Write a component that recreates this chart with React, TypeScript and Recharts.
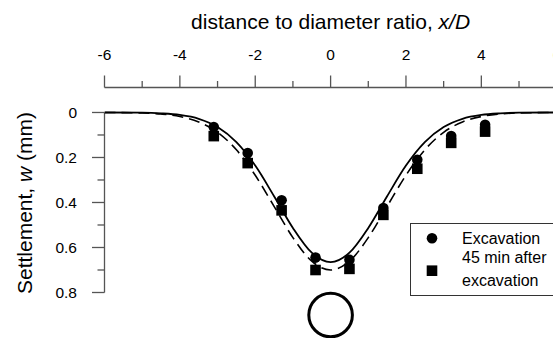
import {
  ComposedChart,
  Line,
  Scatter,
  XAxis,
  YAxis,
  Legend,
  ReferenceLine,
  ReferenceDot,
} from "recharts"

// measured points (x/D, settlement mm)
const pointX = [-3.1, -2.2, -1.3, -0.4, 0.5, 1.4, 2.3, 3.2, 4.1]
const excavation = [0.065, 0.18, 0.39, 0.645, 0.655, 0.425, 0.21, 0.105, 0.055]
const after45 = [0.105, 0.225, 0.435, 0.7, 0.695, 0.455, 0.25, 0.135, 0.085]

// fitted troughs
const curveX = [-6, -5, -4.5, -4, -3.5, -3, -2.5, -2, -1.5, -1, -0.5, 0, 0.5, 1, 1.5, 2, 2.5, 3, 3.5, 4, 4.5, 5, 6]
const fitExcavation = [0, 0.001, 0.004, 0.011, 0.028, 0.065, 0.132, 0.236, 0.372, 0.513, 0.623, 0.665, 0.623, 0.513, 0.372, 0.236, 0.132, 0.065, 0.028, 0.011, 0.004, 0.001, 0]
const fitAfter = [0, 0.002, 0.007, 0.018, 0.042, 0.088, 0.166, 0.279, 0.417, 0.556, 0.661, 0.7, 0.661, 0.556, 0.417, 0.279, 0.166, 0.088, 0.042, 0.018, 0.007, 0.002, 0]

const xTicks = [-6, -5, -4, -3, -2, -1, 0, 1, 2, 3, 4, 5, 6]
const yTicks = [0, 0.1, 0.2, 0.3, 0.4, 0.5, 0.6, 0.7, 0.8]

// tunnel position (centre, in x/D and mm)
const tunnel = { x: 0, y: 0.9 }

const excData = pointX.map((x, i) => ({ x, y: excavation[i] }))
const aftData = pointX.map((x, i) => ({ x, y: after45[i] }))
const fitExcData = curveX.map((x, i) => ({ x, y: fitExcavation[i] }))
const fitAftData = curveX.map((x, i) => ({ x, y: fitAfter[i] }))

const FONT = "'Liberation Sans', Arial, sans-serif"
const AXIS = "#555"

function XTick(props: any) {
  const { x, y, payload } = props
  const major = payload.value % 2 === 0
  return (
    <g>
      <line x1={x} x2={x} y1={y} y2={y - (major ? 12 : 6.5)} stroke={AXIS} strokeWidth={1.3} />
      {major && (
        <text x={x} y={y - 27.5} textAnchor="middle" fontSize={15.5} fill="#000">
          {payload.value}
        </text>
      )}
    </g>
  )
}

function YTick(props: any) {
  const { x, y, payload } = props
  const major = Math.round(payload.value * 10) % 2 === 0
  return (
    <g>
      <line x1={x - (major ? 12.5 : 7)} x2={x} y1={y} y2={y} stroke={AXIS} strokeWidth={1.3} />
      {major && (
        <text x={x - 27.5} y={y} dy="0.36em" textAnchor="end" fontSize={15.5} fill="#000">
          {Number(payload.value.toFixed(1))}
        </text>
      )}
    </g>
  )
}

function LegendBox() {
  return (
    <svg width={160} height={74} style={{ display: "block", fontFamily: FONT }}>
      <rect x={0.5} y={0.5} width={170} height={72} fill="#fff" stroke="#333" strokeWidth={1} />
      <circle cx={22} cy={15.3} r={5.3} fill="#000" />
      <text x={52} y={21} fontSize={16}>Excavation</text>
      <rect x={16.7} y={42.4} width={10.6} height={10.6} fill="#000" />
      <text x={52} y={39.5} fontSize={16}>45 min after</text>
      <text x={52} y={62.8} fontSize={16}>excavation</text>
    </svg>
  )
}

export default function App() {
  return (
    <div style={{ position: "absolute", left: 0, top: 0, width: 553, height: 338, overflow: "hidden", background: "#fff", fontFamily: FONT }}>
      <ComposedChart width={570} height={338} margin={{ top: 47.5, right: 13.3, bottom: 45.5, left: 44.5 }}>
        <XAxis
          type="number"
          dataKey="x"
          orientation="top"
          domain={[-6, 6]}
          ticks={xTicks}
          interval={0}
          height={40}
          tickSize={0}
          tickMargin={0}
          tickLine={false}
          tick={<XTick />}
          axisLine={{ stroke: AXIS, strokeWidth: 1.3 }}
          allowDataOverflow
          label={{
            content: (p: any) => {
              const vb = p.viewBox
              return (
                <text x={vb.x + vb.width / 2} y={vb.y - 19} textAnchor="middle" fontSize={21} fill="#000">
                  distance to diameter ratio, <tspan fontStyle="italic">x/D</tspan>
                </text>
              )
            },
          }}
        />
        <YAxis
          type="number"
          dataKey="y"
          reversed
          domain={[-0.111, 0.8]}
          ticks={yTicks}
          interval={0}
          width={60}
          tickSize={0}
          tickMargin={0}
          tickLine={false}
          axisLine={false}
          tick={<YTick />}
          allowDataOverflow
          label={{
            content: (p: any) => {
              const vb = p.viewBox
              const cx = vb.x - 20.5
              const cy = vb.y + 115.5
              return (
                <text x={cx} y={cy} transform={`rotate(-90 ${cx} ${cy})`} textAnchor="middle" dominantBaseline="central" fontSize={21} fill="#000">
                  Settlement, <tspan fontStyle="italic">w</tspan> (mm)
                </text>
              )
            },
          }}
        />
        <ReferenceLine
          segment={[{ x: -6, y: 0 }, { x: -6, y: 0.8 }]}
          stroke={AXIS}
          strokeWidth={1.3}
          ifOverflow="visible"
        />
        <Line data={fitAftData} dataKey="y" type="monotone" stroke="#000" strokeWidth={1.6} strokeDasharray="11 6" dot={false} activeDot={false} isAnimationActive={false} legendType="none" />
        <Line data={fitExcData} dataKey="y" type="monotone" stroke="#000" strokeWidth={1.8} dot={false} activeDot={false} isAnimationActive={false} legendType="none" />
        <Scatter
          name="Excavation"
          data={excData}
          dataKey="y"
          isAnimationActive={false}
          shape={(p: any) => <circle cx={p.cx} cy={p.cy} r={5.3} fill="#000" />}
        />
        <Scatter
          name="45 min after excavation"
          data={aftData}
          dataKey="y"
          isAnimationActive={false}
          shape={(p: any) => <rect x={p.cx - 5.3} y={p.cy - 5.3} width={10.6} height={10.6} fill="#000" />}
        />
        <ReferenceDot
          x={tunnel.x}
          y={tunnel.y}
          r={21.8}
          fill="none"
          stroke="#000"
          strokeWidth={3}
          ifOverflow="visible"
        />
        <Legend
          layout="horizontal"
          verticalAlign="middle"
          align="center"
          content={() => <LegendBox />}
          wrapperStyle={{ left: 410, top: 223, width: 160, height: 74 }}
        />
      </ComposedChart>
    </div>
  )
}
